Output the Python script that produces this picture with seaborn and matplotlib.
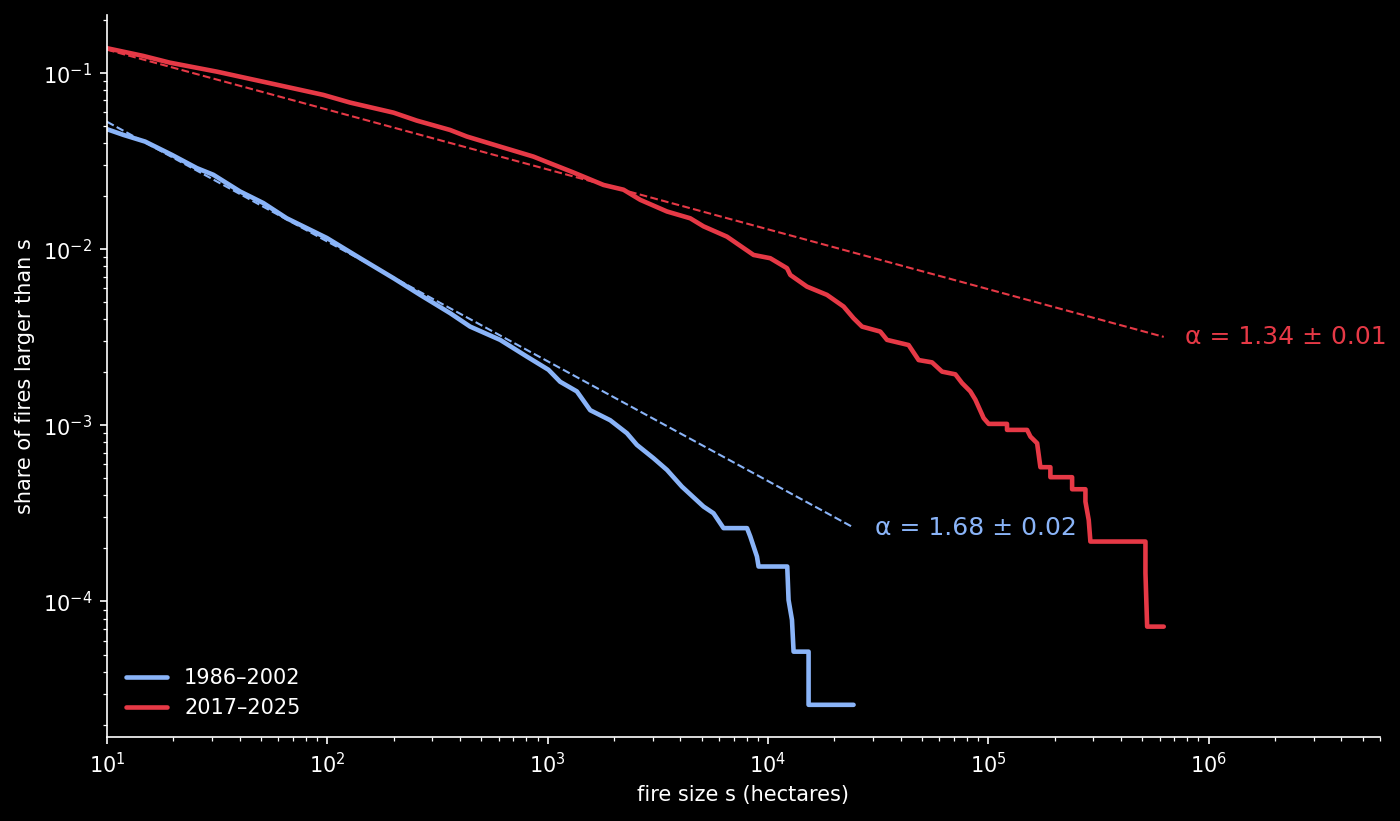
import numpy as np
import pandas as pd
import matplotlib
matplotlib.use("Agg")
import matplotlib.pyplot as plt
import seaborn as sns

# CCDF: fire size (ha) vs share of fires larger than s
early_size = [10, 11.9, 14.9, 19.7, 25.6, 30.4, 40.2, 51.3, 65.5, 99.5,
              141, 200, 264, 361, 445, 609, 805, 1009, 1140, 1358,
              1561, 1924, 2291, 2543, 3026, 3481, 4071, 5103, 5665, 6288,
              8040, 8316, 8918, 9070, 12240, 12409, 12860, 13078, 15297, 15297, 24480]
early_share = [0.0481, 0.0446, 0.0409, 0.0344, 0.0289, 0.0265, 0.0213, 0.0183, 0.0150, 0.0116,
               0.0089, 0.00685, 0.00551, 0.00434, 0.00364, 0.00306, 0.00246, 0.00207, 0.00177, 0.00156,
               0.00122, 0.00107, 0.000903, 0.000775, 0.000651, 0.000559, 0.000449, 0.000346, 0.000317, 0.000261,
               0.000261, 0.000234, 0.000180, 0.000158, 0.000158, 0.000102, 7.86e-5, 5.19e-5, 5.19e-5, 2.59e-5, 2.59e-5]

late_size = [10, 14.6, 19.3, 31.5, 56.9, 96.0, 127, 200, 255, 361,
             430, 609, 863, 1027, 1311, 1794, 2211, 2633, 3481, 4441,
             5103, 6518, 8606, 10250, 12210, 12640, 15040, 18540, 22060, 24480,
             26740, 32370, 34720, 43520, 48320, 55590, 61730, 70920, 76060, 82950,
             87430, 95340, 100460, 121700, 121700, 150100, 155400, 166700, 172500, 191500,
             191500, 240300, 240300, 276200, 276200, 285900, 290900, 517200, 517200, 526400, 626200]
late_share = [0.1387, 0.1254, 0.1148, 0.1021, 0.0869, 0.0753, 0.0681, 0.0597, 0.0538, 0.0476,
              0.0437, 0.0383, 0.0336, 0.0308, 0.0273, 0.0232, 0.0218, 0.0191, 0.0164, 0.0150,
              0.0135, 0.0118, 0.00929, 0.0089, 0.00781, 0.00715, 0.00614, 0.00551, 0.00473, 0.00406,
              0.00364, 0.00341, 0.00306, 0.00286, 0.00235, 0.00228, 0.00202, 0.00195, 0.00174, 0.00156,
              0.00140, 0.00110, 0.00102, 0.00102, 0.000943, 0.000943, 0.000864, 0.000792, 0.000579, 0.000579,
              0.000508, 0.000508, 0.000434, 0.000434, 0.000369, 0.00029, 0.000219, 0.000219, 0.000145, 7.2e-5, 7.2e-5]

periods = ["1986\u20132002", "2017\u20132025"]
colors = ["#8ab4f8", "#e63946"]
alphas = [1.68, 1.34]
alpha_err = [0.02, 0.01]
fit_start = [0.053, 0.136]   # fitted share at s = 10 ha

sns.set_theme(style="ticks", rc={
    "figure.facecolor": "black", "axes.facecolor": "black",
    "savefig.facecolor": "black", "axes.edgecolor": "white",
    "axes.labelcolor": "white", "text.color": "white",
    "xtick.color": "white", "ytick.color": "white",
    "axes.linewidth": 0.8, "xtick.major.size": 3.5, "ytick.major.size": 3.5,
    "xtick.minor.size": 2, "ytick.minor.size": 2,
    "xtick.major.width": 0.8, "ytick.major.width": 0.8,
    "xtick.minor.width": 0.6, "ytick.minor.width": 0.6,
    "font.size": 10, "axes.labelsize": 10,
    "xtick.labelsize": 10, "ytick.labelsize": 10, "legend.fontsize": 10,
})
plt.rcParams["font.family"] = ["DejaVu Sans"]

fig, ax = plt.subplots(figsize=(1400 / 150, 821 / 150), dpi=150)
fig.subplots_adjust(left=0.0764, right=0.9857, bottom=0.1023, top=0.9817)

curves = [(early_size, early_share), (late_size, late_share)]
for (size, share), period, col, a, err, c0 in zip(curves, periods, colors, alphas, alpha_err, fit_start):
    df = pd.DataFrame({"size": size, "share": share})
    sns.lineplot(data=df, x="size", y="share", ax=ax, color=col, lw=2.2,
                 estimator=None, sort=False, label=period)
    fx = np.array([10, size[-1]])
    fy = c0 * (fx / 10) ** (1 - a)
    ax.plot(fx, fy, "--", color=col, lw=1)
    ax.text(fx[-1] * 1.25, fy[-1], f"\u03b1 = {a:.2f} \u00b1 {err:.2f}",
            color=col, fontsize=12, va="center", ha="left")

ax.set_xscale("log")
ax.set_yscale("log")
ax.set_xlim(10, 6.0e6)
ax.set_ylim(1.70e-5, 0.214)
ax.set_xlabel("fire size s (hectares)")
ax.set_ylabel("share of fires larger than s")
sns.despine(ax=ax)
ax.legend(loc="lower left", frameon=False)

fig.savefig("out.png", dpi=150)
